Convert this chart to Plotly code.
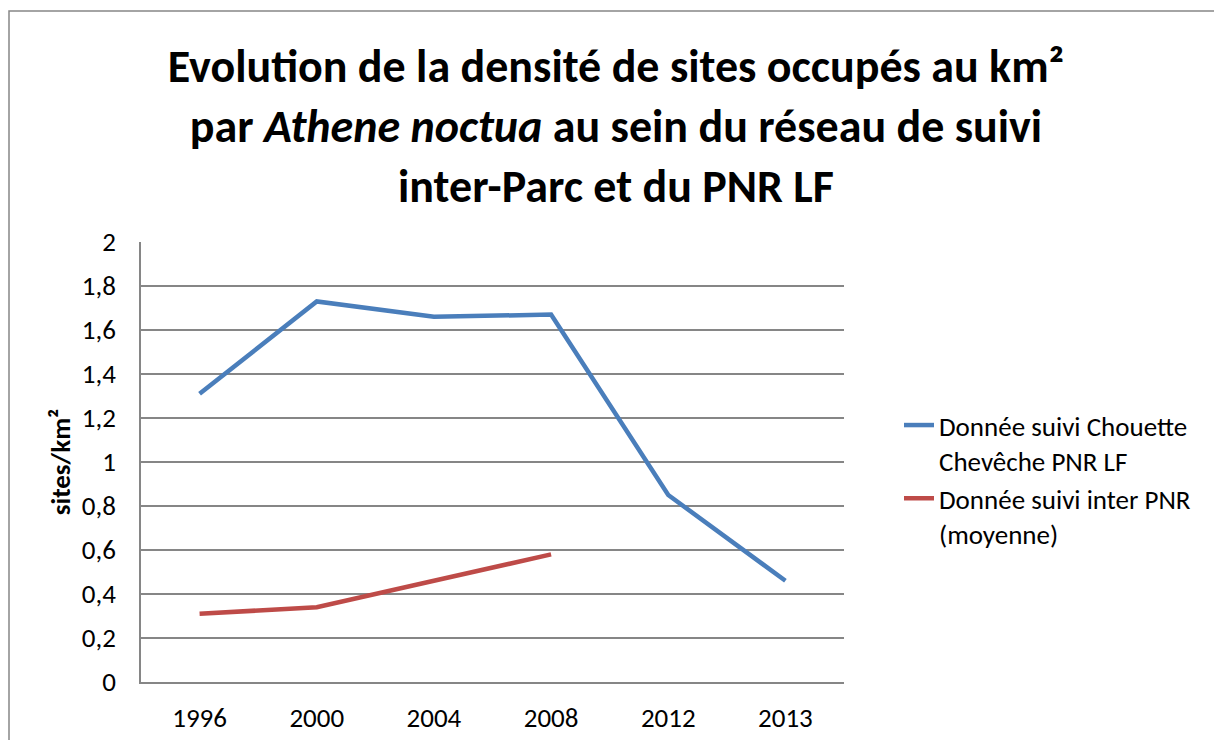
import plotly.graph_objects as go

years = ["1996", "2000", "2004", "2008", "2012", "2013"]
pnr_lf = [1.31, 1.73, 1.66, 1.67, 0.85, 0.46]
inter_pnr = [0.31, 0.34, 0.46, 0.58, None, None]
name_lf = "Donnée suivi Chouette<br>Chevêche PNR LF"
name_inter = "Donnée suivi inter PNR<br>(moyenne)"
title_text = ("Evolution de la densité de sites occupés au km²<br>"
              "par <i>Athene noctua</i> au sein du réseau de suivi<br>"
              "inter-Parc et du PNR LF")

FONT = "Carlito, Lato, sans-serif"
GRID = "#868686"

fig = go.Figure()
fig.add_trace(go.Scatter(x=years, y=pnr_lf, mode="lines", name=name_lf,
                         line=dict(color="#4A7EBB", width=4.5)))
fig.add_trace(go.Scatter(x=years, y=inter_pnr, mode="lines", name=name_inter,
                         line=dict(color="#BE4B48", width=4.5)))

L, R, T, B = 141, 370, 242, 58
W, H = 1214, 740
pw, ph = W - L - R, H - T - B

def px(x):
    return (x - L) / pw

def py(y):
    return (H - B - y) / ph

fig.update_layout(
    width=W, height=H,
    margin=dict(l=L, r=R, t=T, b=B, pad=0),
    paper_bgcolor="white", plot_bgcolor="white",
    separators=", ",
    font=dict(family=FONT, size=27, color="black"),
    title=dict(text=title_text, x=616 / W, xanchor="center", xref="container",
               y=1 - 82 / H, yanchor="middle", yref="container",
               font=dict(family=FONT, size=46, color="black", weight="bold")),
    showlegend=True,
    legend=dict(x=px(899), y=py(401), xanchor="left", yanchor="top",
                valign="top", font=dict(family=FONT, size=27),
                bgcolor="rgba(0,0,0,0)"),
    xaxis=dict(type="category", range=[-0.5, 5.5], showgrid=False,
               showline=True, linecolor=GRID, linewidth=1.5, ticks="",
               ticklabelstandoff=11, automargin=False,
               tickfont=dict(family=FONT, size=27)),
    yaxis=dict(range=[0, 2], dtick=0.2, tick0=0, showgrid=True, gridcolor=GRID,
               gridwidth=1.5, showline=True, linecolor=GRID, linewidth=1.5,
               ticks="", ticklabelstandoff=18, zeroline=False, automargin=False,
               tickfont=dict(family=FONT, size=27),
               title=dict(text="sites/km²", standoff=3,
                          font=dict(family=FONT, size=27, weight="bold"))),
    shapes=[dict(type="rect", xref="paper", yref="paper",
                 x0=px(9), x1=px(W + 10), y0=py(H + 10), y1=py(11),
                 line=dict(color=GRID, width=1.5), fillcolor="rgba(0,0,0,0)")],
)

fig.write_html("out.html", config={"displayModeBar": False},
               post_script="document.body.style.margin='0';document.body.style.overflow='hidden';")
